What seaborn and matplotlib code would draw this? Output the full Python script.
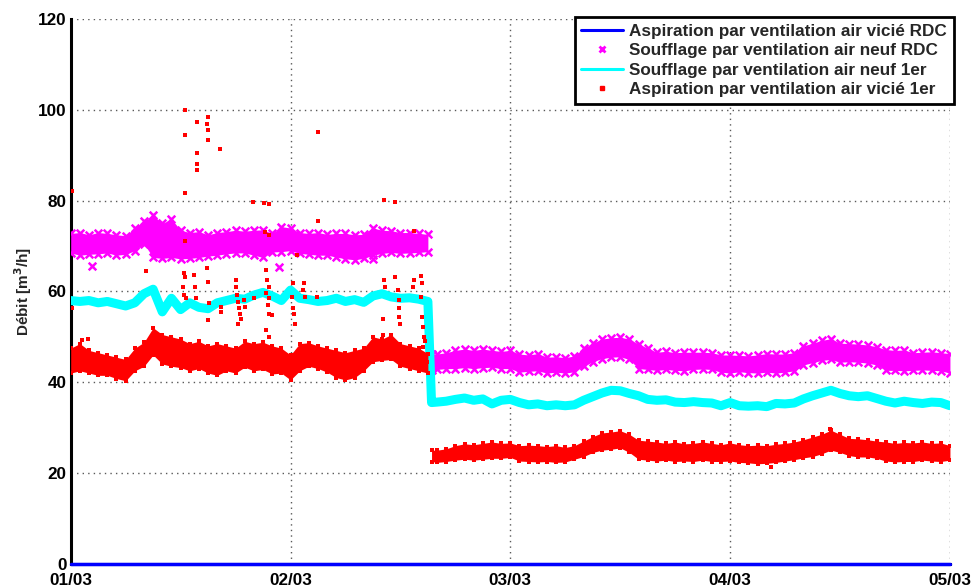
import matplotlib
matplotlib.use('Agg')
import matplotlib.pyplot as plt
from matplotlib.lines import Line2D
import numpy as np
import pandas as pd
import seaborn as sns

# time axis in hours since 01/03 00:00
hours_1 = list(range(0, 40))
hours_2 = [39.4] + list(range(40, 97))
day_labels = ['01/03', '02/03', '03/03', '04/03', '05/03']

# Soufflage RDC (magenta) : upper / lower edge of the band
mag_hi_1 = [72.8, 73.0, 72.5, 73.0, 72.8, 72.5, 72.3, 74.0, 75.5, 76.8, 75.0, 76.0, 73.5, 73.0, 73.2, 72.5,
            73.0, 73.2, 73.5, 73.3, 73.5, 73.6, 72.8, 74.3, 74.0, 73.0, 72.8, 73.0, 72.6, 72.8, 72.8, 72.5,
            72.6, 74.0, 73.5, 73.4, 73.0, 73.0, 72.8, 72.6]
mag_lo_1 = [68.5, 68.0, 68.2, 68.3, 68.5, 68.0, 68.2, 69.0, 70.5, 67.5, 67.3, 67.5, 67.2, 67.3, 67.5, 67.8,
            68.0, 68.3, 68.5, 68.5, 68.0, 67.5, 68.7, 68.8, 69.0, 68.4, 68.2, 68.0, 68.0, 67.6, 67.2, 67.0,
            67.3, 68.0, 68.4, 68.6, 68.4, 68.5, 68.6, 68.8]
mag_hi_2 = [46.2, 46.2, 46.5, 47.0, 47.3, 47.0, 47.3, 47.0, 46.8, 47.0, 46.2, 46.0, 46.3, 45.5, 45.6, 45.4,
            45.8, 47.5, 48.6, 49.5, 49.8, 49.9, 49.5, 48.4, 47.5, 46.6, 46.8, 46.5, 46.6, 46.6, 46.6, 46.5,
            46.0, 46.0, 45.9, 45.8, 46.0, 46.3, 46.2, 46.2, 46.5, 48.0, 48.6, 49.2, 49.6, 48.6, 48.5, 48.4,
            48.2, 47.8, 47.2, 47.0, 47.1, 46.5, 46.6, 46.7, 46.5, 46.3]
mag_lo_2 = [42.6, 42.8, 43.0, 43.0, 43.2, 43.0, 43.2, 43.3, 43.0, 43.0, 42.2, 42.4, 42.5, 42.0, 42.2, 42.0,
            42.3, 43.5, 44.5, 45.2, 45.5, 45.6, 45.0, 43.0, 42.8, 42.6, 42.8, 42.6, 42.5, 42.8, 42.9, 42.8,
            42.2, 42.0, 42.3, 42.1, 42.0, 42.2, 42.0, 42.2, 42.5, 43.8, 44.3, 44.8, 45.0, 44.4, 44.5, 44.4,
            44.2, 43.8, 42.6, 42.6, 42.5, 42.6, 42.7, 42.6, 42.5, 42.0]
mag_out_h = [2.3, 22.7, 33.0]
mag_out_v = [65.6, 65.4, 67.2]

# Soufflage 1er (cyan)
cyan_1 = [58.0, 57.8, 58.0, 57.5, 57.8, 57.3, 56.8, 57.5, 59.5, 60.5, 55.5, 58.5, 56.0, 57.5, 56.5, 56.2,
          57.5, 58.0, 58.5, 58.3, 59.2, 59.8, 59.0, 58.0, 60.3, 58.5, 58.2, 57.8, 58.0, 58.5, 57.8, 58.2,
          57.6, 59.0, 59.5, 58.8, 58.5, 58.6, 58.3, 57.8]
cyan_2 = [35.5, 35.6, 35.8, 36.2, 36.5, 36.0, 36.3, 35.2, 36.0, 36.2, 35.5, 35.0, 35.2, 34.8, 35.0, 34.8,
          35.0, 36.0, 36.8, 37.6, 38.2, 38.1, 37.5, 37.0, 36.2, 36.0, 36.1, 35.6, 35.5, 35.7, 35.5, 35.4,
          34.8, 35.5, 34.8, 34.7, 34.8, 34.6, 35.3, 35.2, 35.4, 36.3, 37.0, 37.6, 38.2, 37.5, 37.0, 36.8,
          37.0, 36.4, 35.8, 35.4, 35.8, 35.5, 35.3, 35.6, 35.5, 34.8]

# Aspiration 1er (red) : upper / lower edge of the band
red_hi_1 = [47.5, 48.5, 47.0, 46.5, 46.0, 45.5, 45.0, 47.5, 48.8, 52.0, 50.5, 50.0, 49.5, 48.5, 49.0, 48.0,
            48.5, 48.0, 47.5, 49.0, 48.5, 48.8, 48.0, 47.5, 46.0, 48.5, 48.7, 48.0, 47.5, 47.0, 46.5, 47.0,
            47.5, 50.0, 49.5, 50.5, 48.5, 48.0, 47.5, 46.3]
red_lo_1 = [42.0, 42.5, 42.0, 41.5, 41.5, 40.8, 40.3, 42.5, 43.5, 46.0, 44.0, 43.5, 43.2, 42.5, 43.0, 42.0,
            41.5, 42.5, 42.0, 43.3, 42.5, 42.8, 41.8, 42.0, 40.5, 42.5, 43.5, 43.0, 42.2, 41.0, 40.5, 41.0,
            42.5, 44.5, 44.8, 45.0, 43.5, 43.0, 42.5, 42.0]
red_hi_2 = [25.0, 25.0, 25.3, 26.0, 26.4, 26.2, 26.5, 26.8, 26.5, 26.6, 26.0, 26.1, 26.0, 25.8, 26.0, 25.6,
            26.0, 27.0, 28.0, 28.8, 29.0, 29.3, 28.5, 27.2, 27.0, 26.8, 26.5, 26.8, 26.4, 26.5, 26.8, 26.5,
            26.2, 26.6, 26.2, 26.0, 26.1, 26.0, 26.3, 26.5, 26.8, 27.3, 27.9, 28.5, 29.4, 28.5, 27.6, 27.5,
            27.3, 27.0, 26.8, 26.5, 26.7, 26.6, 26.8, 26.5, 26.6, 26.0]
red_lo_2 = [22.5, 22.3, 22.5, 22.8, 23.0, 22.8, 23.0, 23.2, 23.2, 23.4, 22.6, 22.5, 22.4, 22.5, 22.3, 22.4,
            23.0, 23.6, 24.5, 25.0, 25.2, 25.5, 24.5, 23.0, 22.8, 22.6, 22.8, 22.5, 22.6, 22.5, 22.8, 22.5,
            22.5, 22.6, 22.3, 22.2, 22.0, 22.1, 22.3, 22.6, 22.9, 23.3, 23.6, 24.2, 25.0, 24.5, 23.8, 23.5,
            23.5, 23.2, 22.6, 22.4, 22.5, 22.5, 22.8, 22.6, 22.5, 22.8]
red_out_h = [0.1, 0.1, 1.2, 1.9, 8.2, 12.5, 12.5, 12.5, 12.5, 12.4, 12.5, 12.3, 12.4, 12.6, 13.5, 13.6, 13.7,
             13.8, 13.8, 13.8, 13.8, 14.9, 15.0, 15.1, 15.0, 15.0, 14.9, 15.0, 15.0, 16.3, 16.4, 16.4,
             18.0, 18.1, 18.2, 18.3, 18.4, 18.5, 18.6, 18.3, 18.9, 19.0, 19.9, 20.0, 21.1, 21.6, 21.2, 21.6,
             21.3, 21.4, 21.6, 21.3, 21.7, 21.5, 21.6, 21.3, 21.6, 22.0, 24.3, 24.2, 24.3, 24.4, 24.5, 24.7,
             25.5, 25.4, 25.6, 27.0, 27.0, 26.9, 34.2, 35.4, 37.5, 34.2, 34.3, 34.1, 34.1, 35.4, 35.7, 35.9,
             35.8, 35.9, 36.0, 37.5, 37.4, 38.3, 38.4, 38.3, 38.4, 38.5, 38.6, 38.5, 38.7, 38.8, 38.9,
             76.5, 82.9]
red_out_v = [82.2, 56.4, 49.3, 49.5, 64.6, 100.1, 94.6, 81.8, 71.2, 64.1, 63.2, 61.0, 59.2, 58.5, 63.6, 61.0, 58.5,
             97.3, 90.6, 88.1, 86.9, 65.1, 62.1, 57.4, 53.7, 98.5, 97.0, 95.7, 93.5, 91.5, 56.6, 55.5,
             62.6, 61.0, 59.2, 57.7, 56.3, 55.1, 54.0, 52.9, 58.1, 56.5, 79.8, 58.5, 79.6, 79.3, 73.2, 72.4,
             64.7, 62.5, 61.0, 59.6, 58.5, 57.0, 55.1, 51.5, 50.0, 54.8, 61.8, 58.8, 56.3, 55.1, 52.9, 68.0,
             61.8, 60.3, 58.8, 95.1, 75.6, 58.8, 80.1, 79.8, 73.3, 62.5, 61.0, 54.0, 50.4, 63.2, 60.3, 58.1,
             56.3, 54.4, 52.9, 62.6, 61.0, 63.4, 61.8, 58.8, 54.4, 52.2, 50.0, 47.8, 49.0, 46.0, 44.5,
             21.3, 29.7]

# Aspiration RDC (blue) : zero all along
blue_h = [0, 96]
blue_v = [0.0, 0.0]

legend_labels = ['Aspiration par ventilation air vicié RDC',
                 'Soufflage par ventilation air neuf RDC',
                 'Soufflage par ventilation air neuf 1er',
                 'Aspiration par ventilation air vicié 1er']

MAG = '#FF00FF'
CYA = '#00FFFF'
RED = '#FF0000'
BLU = '#0000FF'

sns.set_theme(style="white")
plt.rcParams['font.family'] = ['Liberation Sans', 'DejaVu Sans']
plt.rcParams['font.weight'] = 'bold'

fig = plt.figure(figsize=(9.75, 5.87), dpi=100)
ax = fig.add_axes([0.0725, 0.0400, 0.9018, 0.9269])

# magenta band
for hh, lo, hi in [(hours_1, mag_lo_1, mag_hi_1), (hours_2, mag_lo_2, mag_hi_2)]:
    ax.fill_between(hh, lo, hi, color=MAG, lw=0, zorder=3)
    sns.scatterplot(x=hh + hh, y=lo + hi, marker='x', s=30, color=MAG, linewidth=1.8, ax=ax, zorder=3)
sns.scatterplot(x=mag_out_h, y=mag_out_v, marker='x', s=30, color=MAG, linewidth=1.8, ax=ax, zorder=3)

# cyan line
cyan_df = pd.DataFrame({'h': hours_1 + hours_2, 'v': cyan_1 + cyan_2})
sns.lineplot(data=cyan_df, x='h', y='v', color=CYA, lw=6.5, estimator=None, sort=False, ax=ax, zorder=4)

# red band and scattered points
for hh, lo, hi in [(hours_1, red_lo_1, red_hi_1), (hours_2, red_lo_2, red_hi_2)]:
    ax.fill_between(hh, lo, hi, color=RED, lw=0, zorder=5)
    sns.scatterplot(x=hh + hh, y=lo + hi, marker='s', s=9, color=RED, linewidth=0, ax=ax, zorder=5)
sns.scatterplot(x=red_out_h, y=red_out_v, marker='s', s=9, color=RED, linewidth=0, ax=ax, zorder=5)

# blue line at zero
ax.plot(blue_h, blue_v, color=BLU, lw=2.5, zorder=6, clip_on=False)

ax.set_xlim(0, 96)
ax.set_ylim(0, 120)
ax.set_xticks([24 * i for i in range(len(day_labels))])
ax.set_xticklabels(day_labels)
ax.set_yticks(range(0, 121, 20))
ax.tick_params(axis='both', direction='in', length=5, width=2, labelsize=12.3, colors='black')
ax.tick_params(axis='x', pad=6.5)
ax.tick_params(axis='y', pad=3)
ax.set_xlabel('')
ax.set_ylabel('Débit [m$^3$/h]', fontsize=11, fontweight='bold', labelpad=3)
ax.grid(True, color='0.35', lw=1, linestyle=(0, (1, 3)))
ax.set_axisbelow(True)
for side in ['top', 'right']:
    ax.spines[side].set_visible(False)
for side in ['left', 'bottom']:
    ax.spines[side].set_color('black')
    ax.spines[side].set_linewidth(2.2)

handles = [Line2D([], [], color=BLU, lw=2.2),
           Line2D([], [], color=MAG, lw=0, marker='x', markersize=5, mew=2),
           Line2D([], [], color=CYA, lw=2.2),
           Line2D([], [], color=RED, lw=0, marker='s', markersize=2.5)]
leg = ax.legend(handles, legend_labels, loc='upper right', bbox_to_anchor=(1.0045, 1.004),
                borderaxespad=0, fontsize=12.3, frameon=True, fancybox=False, framealpha=1,
                edgecolor='black', handlelength=2.45, handletextpad=0.35, labelspacing=0.25,
                borderpad=0.4)
leg.get_frame().set_linewidth(2)
for t in leg.get_texts():
    t.set_fontweight('bold')

fig.savefig('out.png', dpi=100)
